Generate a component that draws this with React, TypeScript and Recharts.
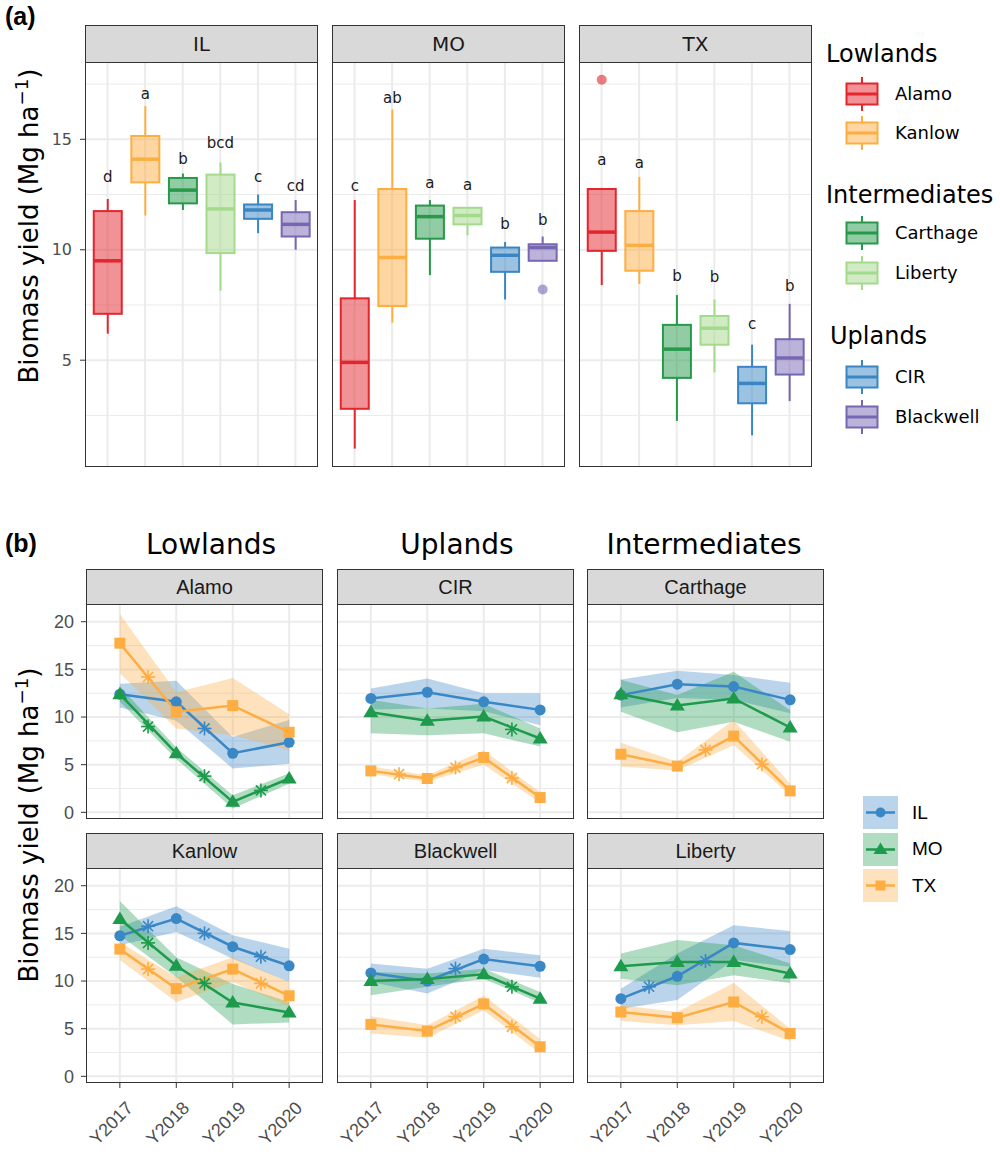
import React from "react";
import { ComposedChart, Bar, Line, Area, XAxis, YAxis, CartesianGrid } from "recharts";

const SANS = "'DejaVu Sans', sans-serif";
const ARIAL = "'Liberation Sans', Arial, sans-serif";

// ---------- (a) yield by variety and site: [lower whisker, Q1, median, Q3, upper whisker]
const VARIETIES = ["Alamo", "Kanlow", "Carthage", "Liberty", "CIR", "Blackwell"];
const VARIETY_COLORS = ["#e3262d", "#fdae43", "#26994a", "#a4da8c", "#3a86c4", "#7767b3"];

const IL_BOX = [
  [6.2, 7.1, 9.5, 11.75, 12.3],
  [11.55, 13.05, 14.1, 15.15, 16.5],
  [11.8, 12.1, 12.7, 13.25, 13.45],
  [8.15, 9.85, 11.85, 13.4, 13.95],
  [10.75, 11.4, 11.8, 12.05, 12.5],
  [10.0, 10.6, 11.15, 11.7, 12.25],
];
const IL_LETTERS = ["d", "a", "b", "bcd", "c", "cd"];
const IL_LETTER_AT = [13.3, 17.05, 14.1, 14.85, 13.3, 12.9];
const IL_OUTLIERS: number[][] = [[], [], [], [], [], []];

const MO_BOX = [
  [1.0, 2.8, 4.9, 7.8, 12.25],
  [6.7, 7.45, 9.65, 12.75, 16.35],
  [8.85, 10.5, 11.5, 12.0, 12.25],
  [10.65, 11.15, 11.55, 11.9, 11.9],
  [7.75, 9.0, 9.75, 10.1, 10.35],
  [9.5, 9.5, 10.1, 10.25, 10.6],
];
const MO_LETTERS = ["c", "ab", "a", "a", "b", "b"];
const MO_LETTER_AT = [12.9, 16.85, 13.0, 12.95, 11.15, 11.35];
const MO_OUTLIERS: number[][] = [[], [], [], [], [], [8.2]];

const TX_BOX = [
  [8.4, 9.95, 10.8, 12.75, 12.8],
  [8.45, 9.05, 10.2, 11.75, 13.3],
  [2.25, 4.2, 5.5, 6.6, 7.95],
  [4.45, 5.7, 6.45, 7.0, 7.75],
  [1.6, 3.05, 3.95, 4.7, 5.7],
  [3.15, 4.35, 5.1, 5.95, 7.55],
];
const TX_LETTERS = ["a", "a", "b", "b", "c", "b"];
const TX_LETTER_AT = [14.05, 13.95, 8.8, 8.75, 6.65, 8.35];
const TX_OUTLIERS: number[][] = [[17.7], [], [], [], [], []];

// ---------- (b) yearly means with error bands; sig marks sit between years
const YEARS = ["Y2017", "Y2018", "Y2019", "Y2020"];
const SITES = ["IL", "MO", "TX"];
const SITE_COLORS: Record<string, string> = { IL: "#3a87c6", MO: "#1d9a4c", TX: "#fdad42" };

const alamoIL = [12.4, 11.6, 6.2, 7.35];
const alamoILBand = [[11.0, 13.5], [9.6, 13.8], [4.6, 7.9], [5.1, 9.7]];
const alamoILSig = [null, 8.8, null];
const alamoMO = [12.4, 6.2, 1.1, 3.55];
const alamoMOBand = [[11.6, 13.2], [5.6, 6.8], [0.4, 1.8], [3.0, 4.1]];
const alamoMOSig = [9.0, 3.8, 2.3];
const alamoTX = [17.75, 10.55, 11.2, 8.4];
const alamoTXBand = [[14.6, 20.8], [8.8, 12.6], [8.1, 14.1], [6.5, 10.3]];
const alamoTXSig = [14.2, null, null];

const cirIL = [11.95, 12.6, 11.6, 10.75];
const cirILBand = [[10.8, 13.0], [10.9, 14.05], [10.6, 12.5], [9.15, 12.5]];
const cirILSig = [null, null, null];
const cirMO = [10.5, 9.6, 10.05, 7.75];
const cirMOBand = [[8.3, 11.8], [8.1, 10.9], [8.3, 11.4], [6.9, 8.8]];
const cirMOSig = [null, null, 8.7];
const cirTX = [4.35, 3.55, 5.75, 1.55];
const cirTXBand = [[4.0, 4.8], [3.2, 3.9], [5.0, 6.5], [1.0, 2.1]];
const cirTXSig = [4.0, 4.7, 3.6];

const carthageIL = [12.3, 13.45, 13.2, 11.8];
const carthageILBand = [[11.0, 13.95], [12.0, 14.85], [11.8, 14.4], [10.4, 13.6]];
const carthageILSig = [null, null, null];
const carthageMO = [12.4, 11.2, 11.95, 8.9];
const carthageMOBand = [[10.55, 13.9], [8.4, 12.3], [9.5, 14.75], [7.4, 10.7]];
const carthageMOSig = [null, null, null];
const carthageTX = [6.1, 4.85, 8.0, 2.25];
const carthageTXBand = [[4.8, 7.3], [4.4, 5.3], [7.05, 9.7], [1.8, 3.0]];
const carthageTXSig = [null, 6.55, 5.05];

const kanlowIL = [14.75, 16.55, 13.6, 11.6];
const kanlowILBand = [[13.75, 15.7], [15.15, 17.85], [12.35, 14.8], [9.9, 13.4]];
const kanlowILSig = [15.75, 15.0, 12.55];
const kanlowMO = [16.5, 11.6, 7.75, 6.7];
const kanlowMOBand = [[14.8, 18.4], [10.4, 12.5], [5.45, 9.7], [5.65, 7.8]];
const kanlowMOSig = [14.0, 9.75, null];
const kanlowTX = [13.35, 9.2, 11.25, 8.45];
const kanlowTXBand = [[12.2, 14.1], [7.8, 10.4], [9.9, 12.5], [7.3, 9.9]];
const kanlowTXSig = [11.25, null, 9.75];

const blackwellIL = [10.85, 10.0, 12.3, 11.55];
const blackwellILBand = [[9.9, 11.85], [8.7, 11.3], [11.15, 13.4], [10.35, 12.7]];
const blackwellILSig = [null, 11.3, null];
const blackwellMO = [10.0, 10.2, 10.7, 8.15];
const blackwellMOBand = [[8.5, 10.95], [9.4, 10.8], [10.25, 11.3], [7.7, 8.85]];
const blackwellMOSig = [null, null, 9.4];
const blackwellTX = [5.45, 4.75, 7.6, 3.1];
const blackwellTXBand = [[4.5, 6.3], [4.05, 5.35], [6.9, 8.45], [2.4, 3.95]];
const blackwellTXSig = [null, 6.25, 5.2];

const libertyIL = [8.15, 10.5, 14.0, 13.3];
const libertyILBand = [[7.1, 9.2], [8.0, 12.9], [12.2, 15.85], [11.5, 15.25]];
const libertyILSig = [9.4, 12.1, null];
const libertyMO = [11.55, 12.0, 12.0, 10.8];
const libertyMOBand = [[10.25, 12.9], [9.55, 14.3], [10.6, 13.75], [9.8, 11.85]];
const libertyMOSig = [null, null, null];
const libertyTX = [6.75, 6.15, 7.8, 4.5];
const libertyTXBand = [[5.8, 7.45], [5.35, 6.75], [5.8, 9.8], [3.7, 5.0]];
const libertyTXSig = [null, null, 6.25];

// ---------- layout
const TOP_Y = 62;
const TOP_H = 405;
const TOP_W = 233;
const TOP_STRIP = 38;
const TOP_XS = [85, 332, 579];

const BOT_YS = [604, 868];
const BOT_H = 215;
const BOT_W = 237;
const BOT_STRIP = 36;
const BOT_XS = [86, 337, 587];

function boxRows(box: number[][], letters: string[], letterAt: number[], outliers: number[][]) {
  return box.map((b, i) => ({
    pos: i + 1,
    lo: b[0],
    q1: b[1],
    med: b[2],
    q3: b[3],
    hi: b[4],
    letter: letters[i],
    letterAt: letterAt[i],
    outliers: outliers[i],
    color: VARIETY_COLORS[i],
  }));
}

function BoxShape(props: any) {
  const { x, y, width, height, payload } = props;
  const { lo, hi, q1, med, q3, letter, letterAt, outliers, color } = payload;
  const top = Math.min(y, y + height);
  const k = Math.abs(height) / (hi - lo);
  const at = (v: number) => top + (hi - v) * k;
  const cx = x + width / 2;
  return (
    <g>
      <line x1={cx} x2={cx} y1={at(hi)} y2={at(q3)} stroke={color} strokeWidth={2} />
      <line x1={cx} x2={cx} y1={at(q1)} y2={at(lo)} stroke={color} strokeWidth={2} />
      <rect x={x} y={at(q3)} width={width} height={at(q1) - at(q3)} fill={color} fillOpacity={0.5} stroke={color} strokeWidth={2} />
      <line x1={x} x2={x + width} y1={at(med)} y2={at(med)} stroke={color} strokeWidth={3.5} />
      {outliers.map((o: number, j: number) => (
        <circle key={j} cx={cx} cy={at(o)} r={5} fill={color} fillOpacity={0.6} />
      ))}
      <text x={cx} y={at(letterAt)} textAnchor="middle" dominantBaseline="central" fontSize={15} fontFamily={SANS} fill="#1a1a1a">
        {letter}
      </text>
    </g>
  );
}

function Strip({ x, y, w, h, label, font, size }: any) {
  return (
    <div
      style={{
        position: "absolute",
        left: x,
        top: y,
        width: w,
        height: h,
        boxSizing: "border-box",
        background: "#d9d9d9",
        border: "1px solid #333",
        display: "flex",
        alignItems: "center",
        justifyContent: "center",
        fontFamily: font,
        fontSize: size,
        color: "#1a1a1a",
      }}
    >
      {label}
    </div>
  );
}

function Border({ x, y, w, h }: any) {
  return (
    <div
      style={{
        position: "absolute",
        left: x,
        top: y,
        width: w,
        height: h,
        boxSizing: "border-box",
        border: "1px solid #333",
        pointerEvents: "none",
      }}
    />
  );
}

function BoxPanel({ x, title, rows, withAxis }: any) {
  const axisW = withAxis ? 50 : 0;
  return (
    <>
      <Strip x={x} y={TOP_Y - TOP_STRIP + 1} w={TOP_W} h={TOP_STRIP} label={title} font={SANS} size={20} />
      <div style={{ position: "absolute", left: x - axisW, top: TOP_Y }}>
        <ComposedChart width={TOP_W + axisW} height={TOP_H} data={rows} margin={{ top: 0, right: 0, bottom: 0, left: 0 }}>
          <CartesianGrid vertical={false} horizontalValues={[2.5, 7.5, 12.5, 17.5]} stroke="#ebebeb" strokeWidth={1} />
          <CartesianGrid horizontalValues={[5, 10, 15]} verticalValues={[1, 2, 3, 4, 5, 6]} stroke="#ebebeb" strokeWidth={2} />
          <XAxis type="number" dataKey="pos" domain={[0.4, 6.6]} allowDataOverflow hide />
          <YAxis
            type="number"
            domain={[0.165, 18.5]}
            allowDataOverflow
            ticks={[5, 10, 15]}
            interval={0}
            hide={!withAxis}
            width={axisW}
            axisLine={false}
            tickSize={5}
            tickMargin={8}
            tickLine={{ stroke: "#333" }}
            tick={{ fill: "#4d4d4d", fontSize: 16, fontFamily: SANS }}
          />
          <Bar
            dataKey={(d: any) => [d.lo, d.hi]}
            barSize={28}
            shape={(p: any) => <BoxShape {...p} />}
            isAnimationActive={false}
          />
        </ComposedChart>
      </div>
      <Border x={x} y={TOP_Y} w={TOP_W} h={TOP_H} />
    </>
  );
}

function marker(site: string, color: string) {
  return (p: any) => {
    const { cx, cy, index } = p;
    const key = `${site}-m-${index}`;
    if (cx == null || cy == null) return <g key={key} />;
    if (site === "IL") return <circle key={key} cx={cx} cy={cy} r={5.5} fill={color} />;
    if (site === "MO")
      return <polygon key={key} points={`${cx},${cy - 7.5} ${cx - 7.5},${cy + 5} ${cx + 7.5},${cy + 5}`} fill={color} />;
    return <rect key={key} x={cx - 5.5} y={cy - 5.5} width={11} height={11} fill={color} />;
  };
}

function asterisk(site: string, color: string) {
  return (p: any) => {
    const { cx, cy, index } = p;
    const key = `${site}-s-${index}`;
    if (cx == null || cy == null) return <g key={key} />;
    const r = 7;
    const d = r * 0.72;
    return (
      <g key={key} stroke={color} strokeWidth={1.6}>
        <line x1={cx} x2={cx} y1={cy - r} y2={cy + r} />
        <line x1={cx - r} x2={cx + r} y1={cy} y2={cy} />
        <line x1={cx - d} x2={cx + d} y1={cy - d} y2={cy + d} />
        <line x1={cx - d} x2={cx + d} y1={cy + d} y2={cy - d} />
      </g>
    );
  };
}

// rotated year label, top-right corner pinned just under the tick
function yearTick(p: any) {
  const ax = p.x + 5;
  const ay = p.y + 10;
  return (
    <g key={`yt-${p.index}`} transform={`translate(${ax} ${ay}) rotate(-45)`}>
      <text x={0} y={0} textAnchor="end" dy="0.72em" fill="#4d4d4d" fontSize={18} fontFamily={ARIAL}>
        {YEARS[p.payload.value - 1]}
      </text>
    </g>
  );
}

function LinePanel({ x, y, title, series, withY, withX }: any) {
  const axisW = withY ? 50 : 0;
  const axisH = withX ? 70 : 0;
  // room under the bottom row-1 tick label so "0" is not clipped
  const padB = withX ? 0 : 12;
  const rows = YEARS.map((_yr, i) => {
    const r: any = { x: i + 1 };
    SITES.forEach((s) => {
      r[s] = series[s].mean[i];
      r[s + "Band"] = series[s].band[i];
    });
    return r;
  });
  const sigRows = (s: string) =>
    series[s].sig
      .map((v: number | null, i: number) => (v == null ? null : { x: i + 1.5, v }))
      .filter(Boolean);

  return (
    <>
      <Strip x={x} y={y - BOT_STRIP + 1} w={BOT_W} h={BOT_STRIP} label={title} font={ARIAL} size={20} />
      <div style={{ position: "absolute", left: x - axisW, top: y }}>
        <ComposedChart
          width={BOT_W + axisW}
          height={BOT_H + axisH + padB}
          data={rows}
          margin={{ top: 0, right: 0, bottom: padB, left: 0 }}
          style={{ overflow: "visible" }}
        >
          <CartesianGrid vertical={false} horizontalValues={[2.5, 7.5, 12.5, 17.5]} stroke="#ebebeb" strokeWidth={1} />
          <CartesianGrid horizontalValues={[0, 5, 10, 15, 20]} verticalValues={[1, 2, 3, 4]} stroke="#ebebeb" strokeWidth={2} />
          <XAxis
            type="number"
            dataKey="x"
            domain={[0.4, 4.6]}
            allowDataOverflow
            ticks={[1, 2, 3, 4]}
            interval={0}
            hide={!withX}
            height={axisH}
            axisLine={false}
            tickSize={5}
            tickMargin={2}
            tickLine={{ stroke: "#333" }}
            tick={yearTick}
          />
          <YAxis
            type="number"
            domain={[-0.7, 21.86]}
            allowDataOverflow
            ticks={[0, 5, 10, 15, 20]}
            interval={0}
            hide={!withY}
            width={axisW}
            axisLine={false}
            tickSize={5}
            tickMargin={7}
            tickLine={{ stroke: "#333" }}
            tick={{ fill: "#4d4d4d", fontSize: 18, fontFamily: ARIAL }}
          />
          {SITES.map((s) => (
            <Area
              key={s + "band"}
              type="linear"
              dataKey={s + "Band"}
              stroke="none"
              fill={SITE_COLORS[s]}
              fillOpacity={0.35}
              isAnimationActive={false}
            />
          ))}
          {SITES.map((s) => (
            <Line
              key={s + "line"}
              type="linear"
              dataKey={s}
              stroke={SITE_COLORS[s]}
              strokeWidth={2.5}
              dot={marker(s, SITE_COLORS[s])}
              activeDot={false}
              isAnimationActive={false}
            />
          ))}
          {SITES.map((s) => (
            <Line
              key={s + "sig"}
              data={sigRows(s)}
              type="linear"
              dataKey="v"
              stroke="none"
              dot={asterisk(s, SITE_COLORS[s])}
              activeDot={false}
              isAnimationActive={false}
            />
          ))}
        </ComposedChart>
      </div>
      <Border x={x} y={y} w={BOT_W} h={BOT_H} />
    </>
  );
}

function BoxKey({ color, top }: any) {
  return (
    <svg width={34} height={36} style={{ position: "absolute", left: 845, top: top - 18 }}>
      <line x1={17} x2={17} y1={1} y2={35} stroke={color} strokeWidth={2} />
      <rect x={1.5} y={7.5} width={31} height={21} fill="#fff" />
      <rect x={1.5} y={7.5} width={31} height={21} fill={color} fillOpacity={0.5} stroke={color} strokeWidth={2} />
      <line x1={1.5} x2={32.5} y1={18} y2={18} stroke={color} strokeWidth={3} />
    </svg>
  );
}

function SiteKey({ site, top }: any) {
  const color = SITE_COLORS[site];
  const cx = 17.5;
  const cy = 16.5;
  let mark;
  if (site === "IL") mark = <circle cx={cx} cy={cy} r={5} fill={color} />;
  else if (site === "MO")
    mark = <polygon points={`${cx},${cy - 7} ${cx - 7},${cy + 4.5} ${cx + 7},${cy + 4.5}`} fill={color} />;
  else mark = <rect x={cx - 5} y={cy - 5} width={10} height={10} fill={color} />;
  return (
    <svg width={35} height={33} style={{ position: "absolute", left: 863, top }}>
      <rect x={0} y={0} width={35} height={33} fill={color} fillOpacity={0.35} />
      <line x1={3} x2={32} y1={cy} y2={cy} stroke={color} strokeWidth={2.5} />
      {mark}
    </svg>
  );
}

const abs = (left: number, top: number, extra: any = {}) => ({ position: "absolute" as const, left, top, ...extra });

function AxisTitle({ cy }: any) {
  return (
    <div
      style={{
        position: "absolute",
        left: 29 - 250,
        top: cy - 20,
        width: 500,
        height: 40,
        lineHeight: "40px",
        textAlign: "center",
        transform: "rotate(-90deg)",
        fontFamily: SANS,
        fontSize: 26,
        color: "#000",
        whiteSpace: "nowrap",
      }}
    >
      Biomass yield (Mg ha<sup style={{ fontSize: "0.7em", lineHeight: 0 }}>−1</sup>)
    </div>
  );
}

export default function App() {
  const legendGroups = [
    { title: "Lowlands", titleY: 54, titleX: 826, items: [0, 1], keys: [93.5, 132.5] },
    { title: "Intermediates", titleY: 195, titleX: 826, items: [2, 3], keys: [233, 272.5] },
    { title: "Uplands", titleY: 336, titleX: 830, items: [4, 5], keys: [377, 417] },
  ];

  const bottom = [
    { title: "Alamo", series: { IL: { mean: alamoIL, band: alamoILBand, sig: alamoILSig }, MO: { mean: alamoMO, band: alamoMOBand, sig: alamoMOSig }, TX: { mean: alamoTX, band: alamoTXBand, sig: alamoTXSig } } },
    { title: "CIR", series: { IL: { mean: cirIL, band: cirILBand, sig: cirILSig }, MO: { mean: cirMO, band: cirMOBand, sig: cirMOSig }, TX: { mean: cirTX, band: cirTXBand, sig: cirTXSig } } },
    { title: "Carthage", series: { IL: { mean: carthageIL, band: carthageILBand, sig: carthageILSig }, MO: { mean: carthageMO, band: carthageMOBand, sig: carthageMOSig }, TX: { mean: carthageTX, band: carthageTXBand, sig: carthageTXSig } } },
    { title: "Kanlow", series: { IL: { mean: kanlowIL, band: kanlowILBand, sig: kanlowILSig }, MO: { mean: kanlowMO, band: kanlowMOBand, sig: kanlowMOSig }, TX: { mean: kanlowTX, band: kanlowTXBand, sig: kanlowTXSig } } },
    { title: "Blackwell", series: { IL: { mean: blackwellIL, band: blackwellILBand, sig: blackwellILSig }, MO: { mean: blackwellMO, band: blackwellMOBand, sig: blackwellMOSig }, TX: { mean: blackwellTX, band: blackwellTXBand, sig: blackwellTXSig } } },
    { title: "Liberty", series: { IL: { mean: libertyIL, band: libertyILBand, sig: libertyILSig }, MO: { mean: libertyMO, band: libertyMOBand, sig: libertyMOSig }, TX: { mean: libertyTX, band: libertyTXBand, sig: libertyTXSig } } },
  ];

  return (
    <div style={{ position: "absolute", left: 0, top: 0, width: 1000, height: 1152, background: "#fff", fontFamily: SANS }}>
      {/* (a) */}
      <div style={abs(5, 2, { fontFamily: ARIAL, fontWeight: "bold", fontSize: 25 })}>(a)</div>
      <AxisTitle cy={226} />
      <BoxPanel x={TOP_XS[0]} title="IL" rows={boxRows(IL_BOX, IL_LETTERS, IL_LETTER_AT, IL_OUTLIERS)} withAxis />
      <BoxPanel x={TOP_XS[1]} title="MO" rows={boxRows(MO_BOX, MO_LETTERS, MO_LETTER_AT, MO_OUTLIERS)} />
      <BoxPanel x={TOP_XS[2]} title="TX" rows={boxRows(TX_BOX, TX_LETTERS, TX_LETTER_AT, TX_OUTLIERS)} />

      {legendGroups.map((g) => (
        <React.Fragment key={g.title}>
          <div style={abs(g.titleX, g.titleY - 15, { fontSize: 24, lineHeight: "30px", color: "#000" })}>{g.title}</div>
          {g.items.map((v, j) => (
            <React.Fragment key={v}>
              <BoxKey color={VARIETY_COLORS[v]} top={g.keys[j]} />
              <div style={abs(895, g.keys[j] - 12, { fontSize: 18, lineHeight: "24px", color: "#000" })}>{VARIETIES[v]}</div>
            </React.Fragment>
          ))}
        </React.Fragment>
      ))}

      {/* (b) */}
      <div style={abs(5, 529, { fontFamily: ARIAL, fontWeight: "bold", fontSize: 25 })}>(b)</div>
      <div style={abs(211 - 100, 527, { width: 200, textAlign: "center", fontSize: 28, lineHeight: "36px" })}>Lowlands</div>
      <div style={abs(457 - 100, 527, { width: 200, textAlign: "center", fontSize: 28, lineHeight: "36px" })}>Uplands</div>
      <div style={abs(704 - 120, 527, { width: 240, textAlign: "center", fontSize: 28, lineHeight: "36px" })}>Intermediates</div>
      <AxisTitle cy={825} />
      {bottom.map((p, i) => (
        <LinePanel
          key={p.title}
          x={BOT_XS[i % 3]}
          y={BOT_YS[Math.floor(i / 3)]}
          title={p.title}
          series={p.series}
          withY={i % 3 === 0}
          withX={i >= 3}
        />
      ))}

      {SITES.map((s, i) => (
        <React.Fragment key={s}>
          <SiteKey site={s} top={[796, 833, 869][i]} />
          <div style={abs(912, [813, 849, 886][i] - 12, { fontFamily: ARIAL, fontSize: 19, lineHeight: "24px", color: "#000" })}>{s}</div>
        </React.Fragment>
      ))}
    </div>
  );
}
